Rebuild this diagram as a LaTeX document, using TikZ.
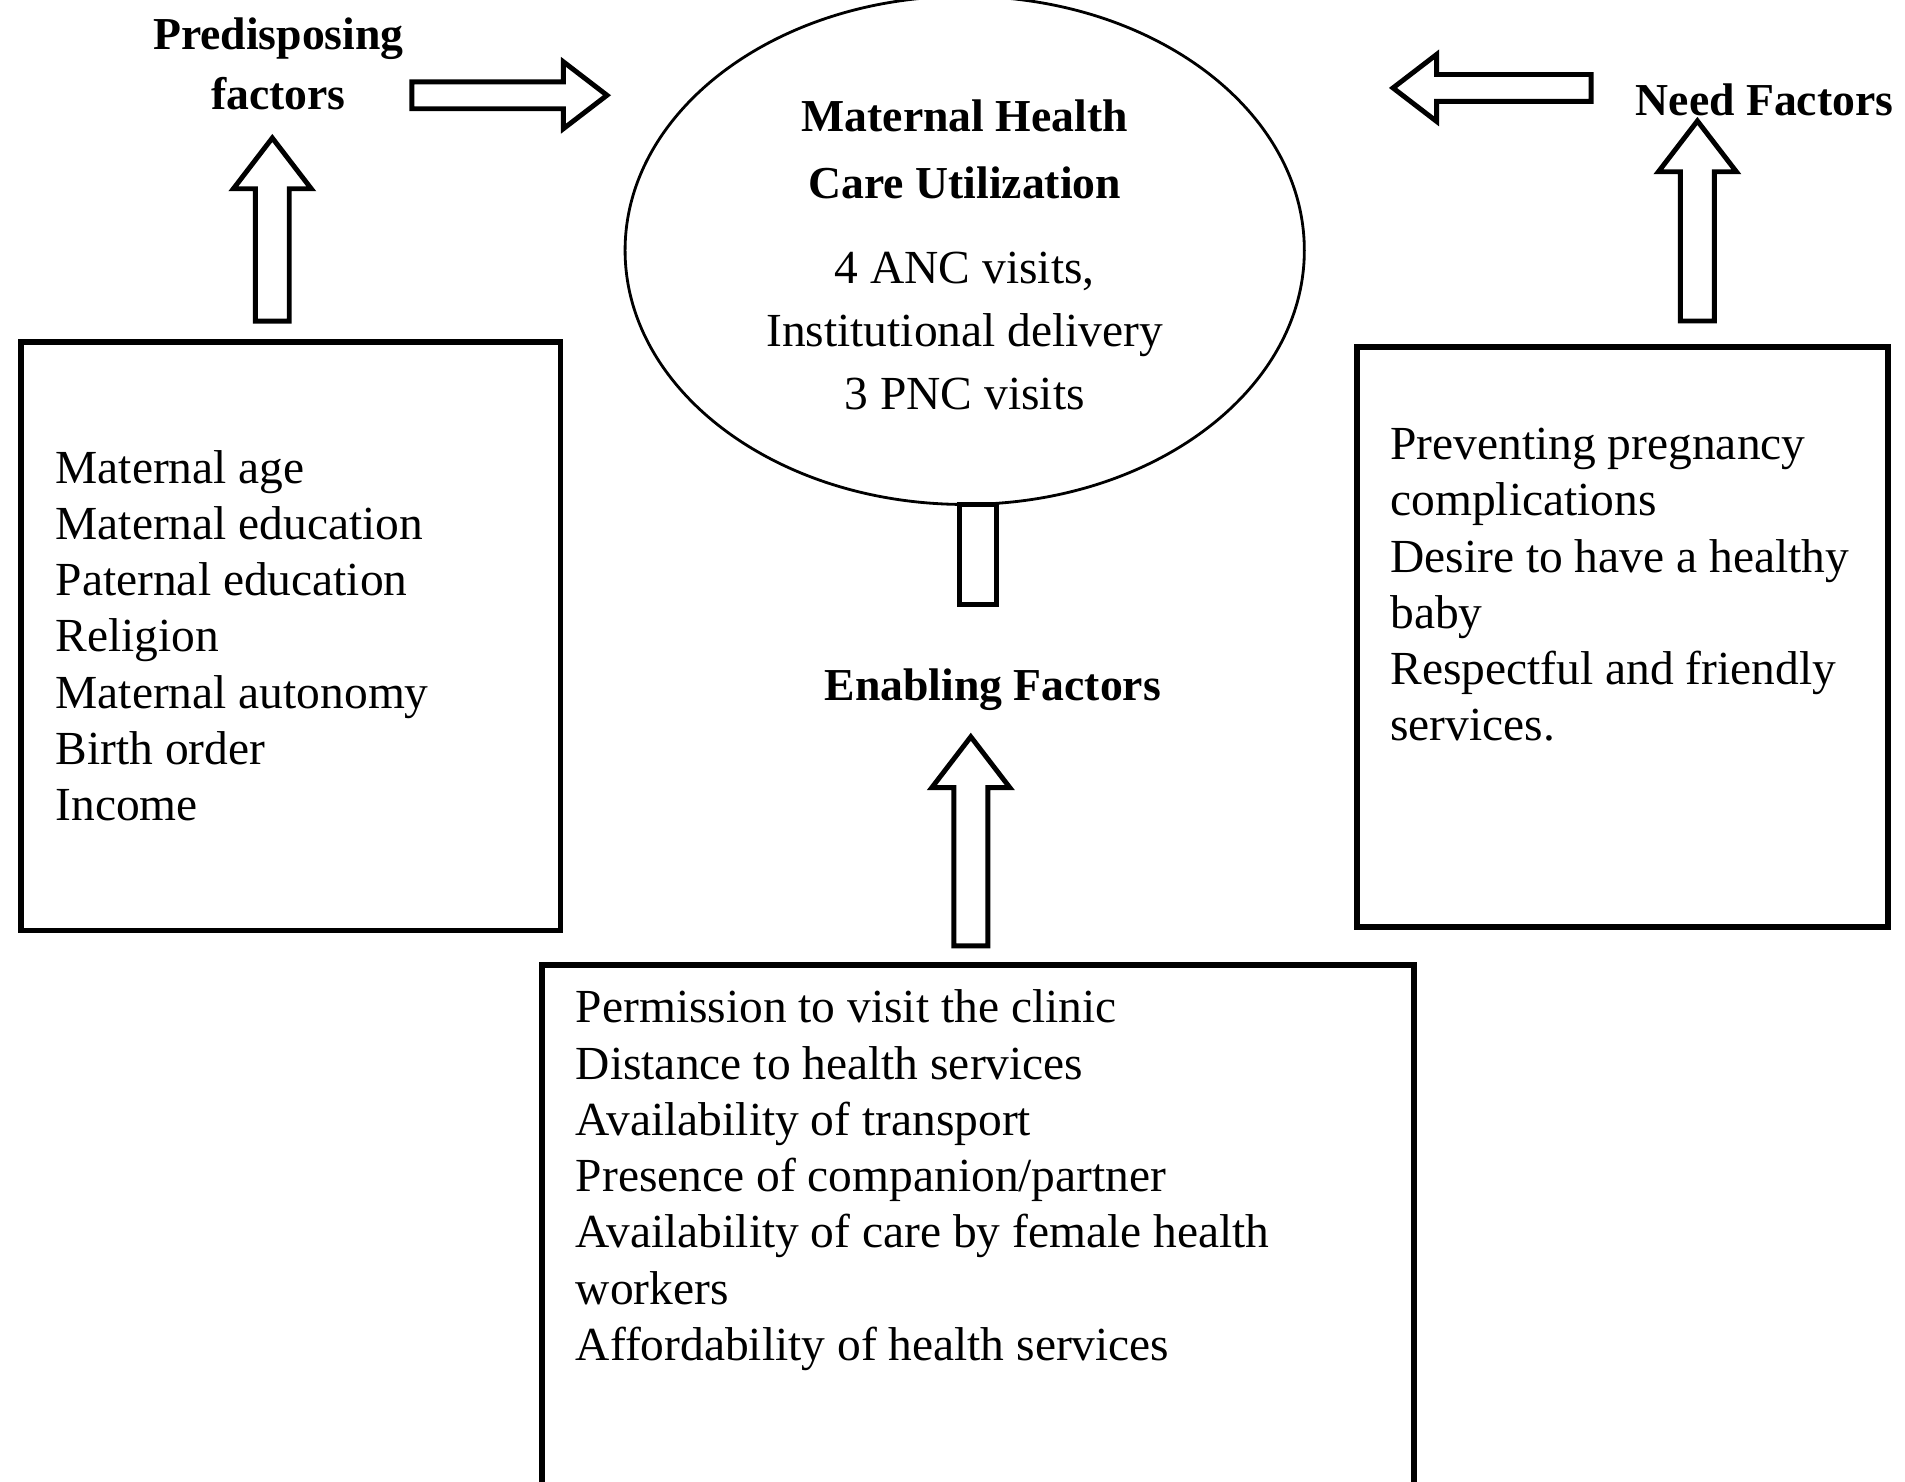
\documentclass[tikz,border=0pt]{standalone}
\usepackage{fontspec}
\setmainfont{Liberation Serif}
\usetikzlibrary{shapes.arrows,shapes.geometric}
\begin{document}
\begin{tikzpicture}
[x=0.01221cm,y=-0.01221cm,
  boxdecorate/.style={draw,line width=1.6pt},%
  bodytext/.style={align=left,font=\fontsize{13.5}{16}\selectfont,inner sep=0pt},%
  headtext/.style={align=center,font=\fontsize{13}{17}\selectfont\bfseries,inner sep=0pt},%
  arrowdecorate/.style={single arrow,draw,line width=1.4pt,inner xsep=0pt,
    inner ysep=0.145cm,text height=0pt,text depth=0pt,
    single arrow head extend=0.22cm,single arrow tip angle=75}]
\useasboundingbox (0,0) rectangle (1560,1213);
%% central ellipse
\node (mhcu) at (790,205) [ellipse,draw,thick,minimum width=556\pgflinewidth*0+6.79cm,
  minimum height=5.08cm] {};
\node (mhcutitle) at (790,122) [headtext] {Maternal Health\\[2pt] Care Utilization};
\node (mhcubody) at (790,271) [bodytext,align=center,font=\fontsize{13.5}{18}\selectfont]
  {4 ANC visits,\\ Institutional delivery\\ 3 PNC visits};
%% boxes
\draw[boxdecorate] (17,280) rectangle (459,762);
\draw[boxdecorate] (1111,284) rectangle (1546,759);
\draw[boxdecorate] (444,790) rectangle (1158,1225);
\node (predlist) at (45,368) [bodytext,anchor=north west]
  {Maternal age\\ Maternal education\\ Paternal education\\ Religion\\
   Maternal autonomy\\ Birth order\\ Income};
\node (needlist) at (1138,350) [bodytext,anchor=north west]
  {Preventing pregnancy\\ complications\\ Desire to have a healthy\\ baby\\
   Respectful and friendly\\ services.};
\node (enablist) at (471,810) [bodytext,anchor=north west]
  {Permission to visit the clinic\\ Distance to health services\\
   Availability of transport\\ Presence of companion/partner\\
   Availability of care by female health\\ workers\\
   Affordability of health services};
%% headings
\node (pred) at (228,52) [headtext] {Predisposing\\ factors};
\node (need) at (1445,82) [headtext] {Need Factors};
\node (enab) at (813,565) [headtext] {Enabling Factors};
%% hollow arrows
\node (predup) at (223,197) [arrowdecorate,rotate=90,minimum height=1.83cm] {};
\node (predright) at (410,78) [arrowdecorate,minimum height=1.95cm,
  inner ysep=0.11cm,single arrow head extend=0.2cm] {};
\node (needleft) at (1229,72) [arrowdecorate,rotate=180,minimum height=1.98cm,
  inner ysep=0.11cm,single arrow head extend=0.2cm] {};
\node (needup) at (1390,190) [arrowdecorate,rotate=90,minimum height=2.0cm] {};
\node (enabup) at (795,698) [arrowdecorate,rotate=90,minimum height=2.09cm] {};
\node (stub) at (801,454) [draw,line width=1.4pt,minimum width=0.37cm,
  minimum height=1.0cm,inner sep=0pt] {};
\end{tikzpicture}
\end{document}
